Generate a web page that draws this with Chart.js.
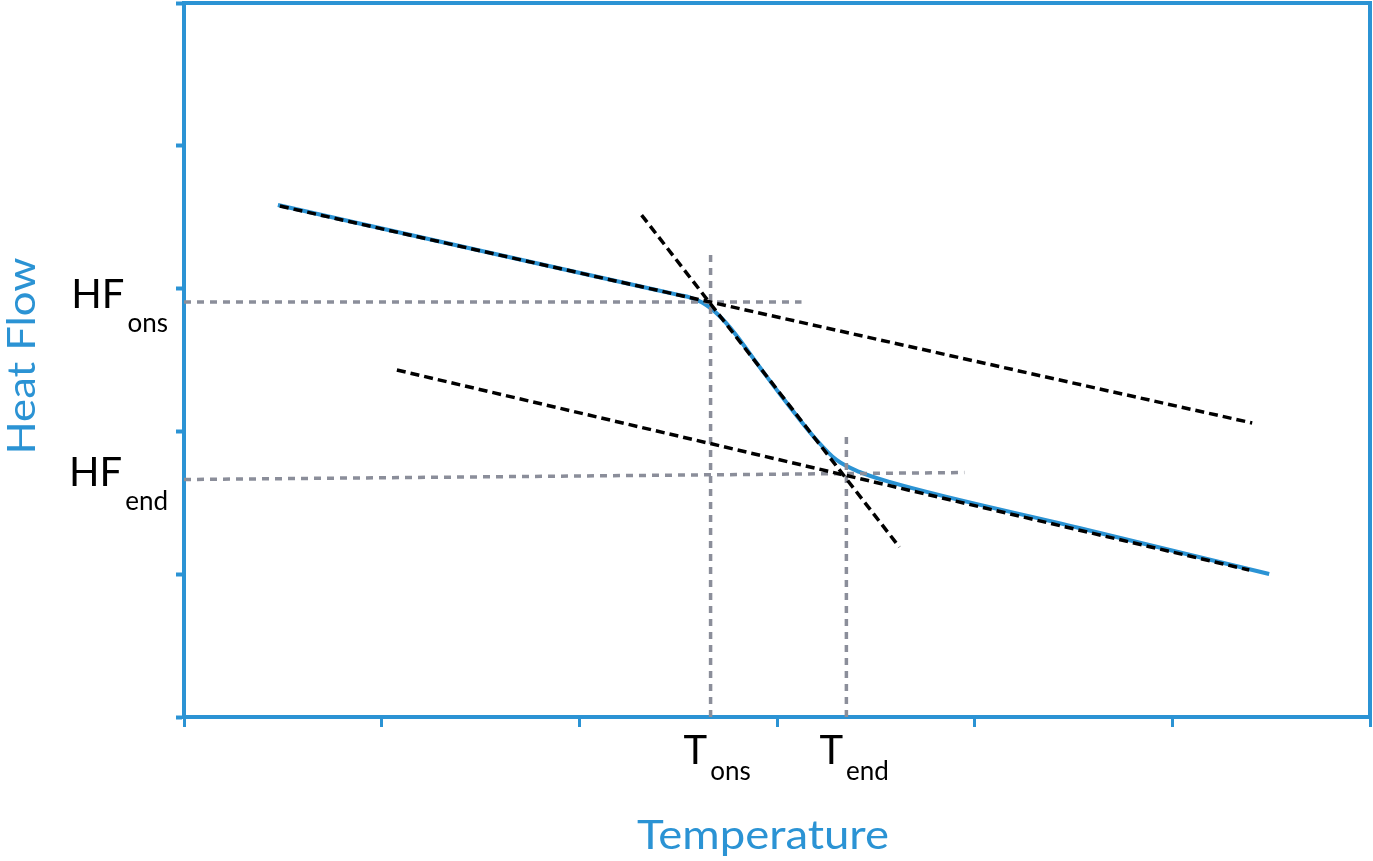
<!DOCTYPE html>
<html>
<head>
<meta charset="utf-8">
<script src="https://cdn.jsdelivr.net/npm/chart.js@4/dist/chart.umd.min.js"></script>
<style>
  body { margin: 0; background: #fff; }
  canvas { display: block; }
</style>
</head>
<body>
<canvas id="dscChart" width="1373" height="861"></canvas>
<script>
// heat flow curve (axis units: temperature 0..6, heat flow 0..5)
const curveT  = [0.475, 1.597, 2.305, 2.507, 2.558, 2.634, 2.709, 2.785, 2.912, 3.038, 3.200, 3.301, 3.417, 3.569, 4.529, 5.490];
const curveHF = [3.585, 3.235, 3.016, 2.954, 2.938, 2.892, 2.808, 2.689, 2.451, 2.220, 1.940, 1.800, 1.716, 1.646, 1.324, 1.001];

// construction tangents (start / end points)
const upperBaseT  = [0.485, 5.404];
const upperBaseHF = [3.578, 2.059];
const steepT      = [2.315, 3.619];
const steepHF     = [3.515, 1.190];
const lowerBaseT  = [1.077, 5.389];
const lowerBaseHF = [2.430, 1.029];

// onset / end markers
const onsetT  = 2.664;
const endT    = 3.351;
const onsetHF = 2.906;
const endHF   = [1.663, 1.712];   // the HF_end guide is drawn slightly tilted
const onsetGuideReach = { t: 3.124, hf: 3.256 };
const endGuideReach   = { t: 3.948, hf: 2.003 };

const tempMarks = [
    { main: "T", sub: "ons", value: onsetT },
    { main: "T", sub: "end", value: endT }
];
const hfMarks = [
    { main: "HF", sub: "ons", value: onsetHF },
    { main: "HF", sub: "end", value: endHF[0] }
];

const xTicks = [0, 1, 2, 3, 4, 5, 6];
const yTicks = [0, 1, 2, 3, 4, 5];

const blue = "#2b93d4";
const gray = "#8b8e9a";
const font = "Lato, 'Open Sans', sans-serif";

const pts = (xs, ys) => xs.map((x, i) => ({ x: x, y: ys[i] }));

function dashed(data, color, dash) {
    return {
        data: data,
        borderColor: color,
        borderWidth: 3.5,
        borderDash: dash,
        pointRadius: 0,
        showLine: true,
        fill: false
    };
}

function drawSub(ctx, main, sub, x, yMain, ySub, align) {
    ctx.font = "40px " + font;
    const wMain = ctx.measureText(main).width;
    ctx.font = "26px " + font;
    const wSub = ctx.measureText(sub).width;
    const gap = 3;
    const start = align === "right" ? x - (wMain + gap + wSub) : x;
    ctx.textAlign = "left";
    ctx.font = "40px " + font;
    ctx.fillText(main, start, yMain);
    ctx.font = "26px " + font;
    ctx.fillText(sub, start + wMain + gap, ySub);
}

// wide geometric face in the original: stretch text to the measured width
function drawWide(ctx, text, cx, cy, size, width, angle) {
    ctx.save();
    ctx.translate(cx, cy);
    ctx.rotate(angle);
    ctx.font = size + "px " + font;
    const w = ctx.measureText(text).width;
    ctx.scale(width / w, 1);
    ctx.textAlign = "center";
    ctx.fillText(text, 0, 0);
    ctx.restore();
}

// labels with subscripts, axis titles and the top/right frame
const labelPlugin = {
    id: "labels",
    afterDraw(chart) {
        const ctx = chart.ctx;
        const area = chart.chartArea;
        const xs = chart.scales.x;
        const ys = chart.scales.y;
        ctx.save();

        ctx.strokeStyle = blue;
        ctx.lineWidth = 4;
        ctx.beginPath();
        ctx.moveTo(area.left - 2, area.top);
        ctx.lineTo(area.right, area.top);
        ctx.lineTo(area.right, area.bottom + 2);
        ctx.stroke();

        ctx.fillStyle = "#000";
        ctx.textBaseline = "alphabetic";
        hfMarks.forEach(m => {
            const py = ys.getPixelForValue(m.value);
            drawSub(ctx, m.main, m.sub, area.left - 16, py + 6, py + 30, "right");
        });
        tempMarks.forEach(m => {
            const px = xs.getPixelForValue(m.value);
            drawSub(ctx, m.main, m.sub, px - 27, area.bottom + 47, area.bottom + 63, "left");
        });

        ctx.fillStyle = blue;
        drawWide(ctx, "Temperature", 763, area.bottom + 132, 40, 252, 0);
        drawWide(ctx, "Heat Flow", 35, 356, 38, 197, -Math.PI / 2);
        ctx.restore();
    }
};

new Chart(document.getElementById("dscChart"), {
    type: "scatter",
    data: {
        datasets: [
            dashed(pts(upperBaseT, upperBaseHF), "#000", [9, 5]),
            dashed(pts(steepT, steepHF), "#000", [9, 5]),
            dashed(pts(lowerBaseT, lowerBaseHF), "#000", [9, 5]),
            dashed([{ x: 0, y: onsetHF }, { x: onsetGuideReach.t, y: onsetHF }], gray, [7, 6]),
            dashed([{ x: onsetT, y: 0 }, { x: onsetT, y: onsetGuideReach.hf }], gray, [7, 6]),
            dashed([{ x: 0, y: endHF[0] }, { x: endGuideReach.t, y: endHF[1] }], gray, [7, 6]),
            dashed([{ x: endT, y: 0 }, { x: endT, y: endGuideReach.hf }], gray, [7, 6]),
            {
                data: pts(curveT, curveHF),
                borderColor: blue,
                borderWidth: 4,
                pointRadius: 0,
                showLine: true,
                cubicInterpolationMode: "monotone",
                fill: false
            }
        ]
    },
    options: {
        responsive: false,
        animation: false,
        devicePixelRatio: 1,
        layout: { padding: { top: 3, right: 3, left: 0, bottom: 0 } },
        plugins: { legend: { display: false }, tooltip: { enabled: false } },
        scales: {
            x: {
                type: "linear",
                min: 0,
                max: 6,
                afterBuildTicks: s => { s.ticks = xTicks.map(v => ({ value: v })); },
                ticks: { display: false },
                grid: { drawOnChartArea: false, drawTicks: true, tickLength: 10, tickWidth: 3, tickColor: blue },
                border: { display: true, color: blue, width: 4 },
                afterFit: s => { s.height = 144; }
            },
            y: {
                type: "linear",
                min: 0,
                max: 5,
                afterBuildTicks: s => { s.ticks = yTicks.map(v => ({ value: v })); },
                ticks: { display: false },
                grid: { drawOnChartArea: false, drawTicks: true, tickLength: 8, tickWidth: 4, tickColor: blue },
                border: { display: true, color: blue, width: 4 },
                afterFit: s => { s.width = 184; }
            }
        }
    },
    plugins: [labelPlugin]
});
</script>
</body>
</html>
